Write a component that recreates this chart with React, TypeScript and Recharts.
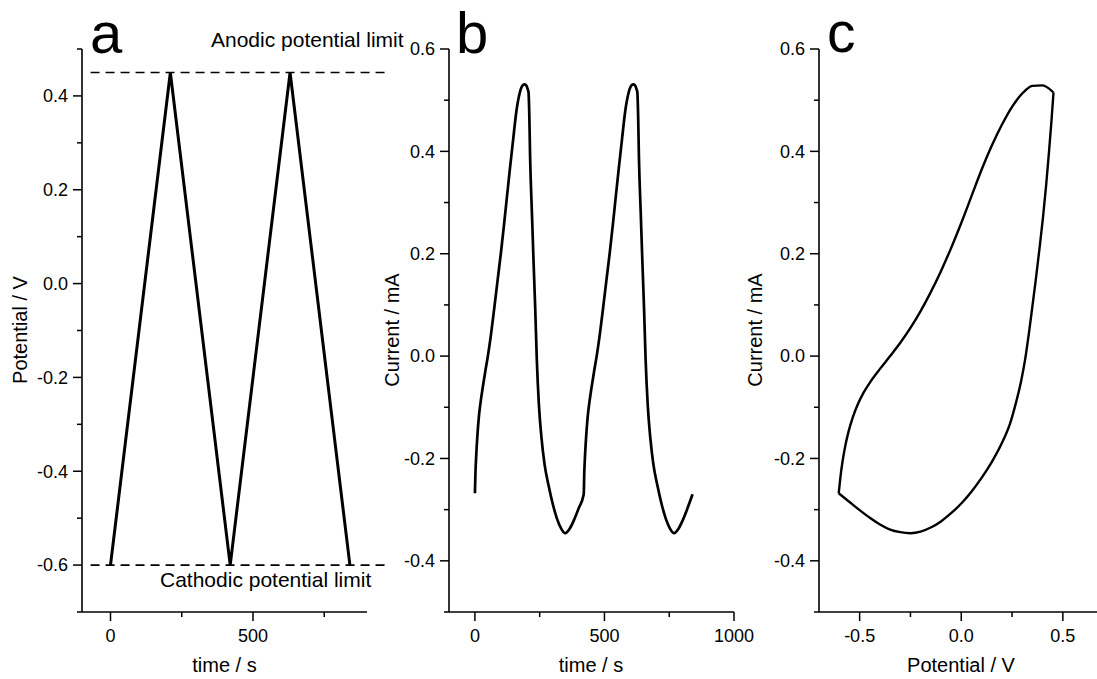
import { LineChart, Line, XAxis, YAxis, ReferenceLine } from "recharts"

// panel a: applied potential sweep
const sweepTime = [0, 210, 420, 630, 840]
const sweepPotential = [-0.6, 0.45, -0.6, 0.45, -0.6]
const anodicLimit = 0.45
const cathodicLimit = -0.6

// panel b: current response vs time (two cycles)
const cvTime = [
  0, 2, 5, 9, 15, 22, 30, 40, 50, 62, 75, 88, 100, 112, 124, 136, 148, 160, 172, 183, 191, 198, 204, 207, 210,
  213, 220, 226, 233, 239, 247, 257, 269, 284, 300, 317, 333, 349, 365, 381, 400, 420,
  422, 425, 429, 435, 442, 450, 460, 470, 482, 495, 508, 520, 532, 544, 556, 568, 580, 592, 603, 611, 618, 624,
  627, 630, 633, 640, 646, 653, 659, 667, 677, 689, 704, 720, 737, 753, 769, 785, 801, 820, 840,
]
const cvCurrent = [
  -0.268, -0.23, -0.195, -0.16, -0.12, -0.09, -0.062, -0.03, 0.0, 0.042, 0.095, 0.15, 0.2, 0.255, 0.313, 0.37,
  0.425, 0.478, 0.512, 0.528, 0.531, 0.529, 0.521, 0.515, 0.47, 0.39, 0.28, 0.19, 0.09, -0.008, -0.095, -0.16,
  -0.212, -0.252, -0.288, -0.318, -0.337, -0.346, -0.338, -0.322, -0.298, -0.27,
  -0.23, -0.195, -0.16, -0.12, -0.09, -0.062, -0.03, 0.0, 0.042, 0.095, 0.15, 0.2, 0.255, 0.313, 0.37, 0.425,
  0.478, 0.512, 0.528, 0.531, 0.529, 0.521, 0.515, 0.47, 0.39, 0.28, 0.19, 0.09, -0.008, -0.095, -0.16, -0.212,
  -0.252, -0.288, -0.318, -0.337, -0.346, -0.338, -0.322, -0.298, -0.27,
]

// panel c: voltammogram, anodic (forward) and cathodic (reverse) branches
const fwdPotential = [
  -0.603, -0.595, -0.585, -0.572, -0.555, -0.535, -0.51, -0.48, -0.445, -0.4, -0.35, -0.3, -0.25, -0.2, -0.15,
  -0.1, -0.05, 0.0, 0.05, 0.1, 0.15, 0.2, 0.25, 0.3, 0.35, 0.4, 0.454,
]
const fwdCurrent = [
  -0.268, -0.238, -0.208, -0.178, -0.148, -0.121, -0.095, -0.071, -0.049, -0.025, 0.0, 0.026, 0.055, 0.088,
  0.125, 0.166, 0.211, 0.26, 0.312, 0.364, 0.411, 0.452, 0.487, 0.513, 0.528, 0.529, 0.515,
]
const revPotential = [
  -0.603, -0.55, -0.5, -0.45, -0.4, -0.35, -0.3, -0.25, -0.2, -0.15, -0.1, -0.05, 0.0, 0.05, 0.1, 0.15, 0.2,
  0.24, 0.27, 0.295, 0.315, 0.333, 0.35, 0.367, 0.385, 0.402, 0.418, 0.432, 0.444, 0.454,
]
const revCurrent = [
  -0.268, -0.285, -0.301, -0.316, -0.329, -0.339, -0.344, -0.346, -0.343, -0.335, -0.323, -0.307, -0.288,
  -0.265, -0.238, -0.207, -0.17, -0.132, -0.09, -0.048, -0.005, 0.045, 0.097, 0.15, 0.21, 0.27, 0.335, 0.4,
  0.46, 0.515,
]

// ticks
const potentialTicksA = [-0.7, -0.6, -0.5, -0.4, -0.3, -0.2, -0.1, 0, 0.1, 0.2, 0.3, 0.4, 0.5]
const potentialMajorA = [-0.6, -0.4, -0.2, 0, 0.2, 0.4]
const timeTicksA = [0, 250, 500, 750]
const timeTicksB = [0, 250, 500, 750, 1000]
const timeMajor = [0, 500, 1000]
const currentTicks = [-0.5, -0.4, -0.3, -0.2, -0.1, 0, 0.1, 0.2, 0.3, 0.4, 0.5, 0.6]
const currentMajor = [-0.4, -0.2, 0, 0.2, 0.4, 0.6]
const potentialTicksC = [-0.5, -0.25, 0, 0.25, 0.5]
const potentialMajorC = [-0.5, 0, 0.5]

const sweepData = sweepTime.map((t, i) => ({ t, E: sweepPotential[i] }))
const cvData = cvTime.map((t, i) => ({ t, I: cvCurrent[i] }))
const fwdData = fwdPotential.map((E, i) => ({ E, I: fwdCurrent[i] }))
const revData = revPotential.map((E, i) => ({ E, I: revCurrent[i] }))

const FONT = '"Liberation Sans", Arial, Helvetica, sans-serif'
const MAJOR_LEN = 9
const MINOR_LEN = 5
const Y_GAP = 5
const X_GAP = 8
const axisLine = { stroke: "#000", strokeWidth: 1.6 }

const fixed1 = (v: number) => v.toFixed(1)
const plain = (v: number) => String(v)

function YTick(props: any) {
  const { x, y, payload, majors, fmt } = props
  const v = payload.value
  const major = majors.includes(v)
  const ax = x + Y_GAP + MAJOR_LEN
  return (
    <g>
      <line x1={ax - (major ? MAJOR_LEN : MINOR_LEN)} x2={ax} y1={y} y2={y} stroke="#000" strokeWidth={1.5} />
      {major && (
        <text x={x} y={y} dy="0.355em" textAnchor="end" fontSize={18} fontFamily={FONT} fill="#000">
          {fmt(v)}
        </text>
      )}
    </g>
  )
}

function XTick(props: any) {
  const { x, y, payload, majors, fmt } = props
  const v = payload.value
  const major = majors.includes(v)
  const ay = y - X_GAP - MAJOR_LEN
  return (
    <g>
      <line x1={x} x2={x} y1={ay} y2={ay + (major ? MAJOR_LEN : MINOR_LEN)} stroke="#000" strokeWidth={1.5} />
      {major && (
        <text x={x} y={y} dy="0.71em" textAnchor="middle" fontSize={18} fontFamily={FONT} fill="#000">
          {fmt(v)}
        </text>
      )}
    </g>
  )
}

const box = (left: number): React.CSSProperties => ({ position: "absolute", left, top: 0 })

export default function App() {
  return (
    <div
      style={{
        position: "absolute",
        left: 0,
        top: 0,
        width: 1097,
        height: 679,
        background: "#fff",
        fontFamily: FONT,
        overflow: "hidden",
      }}
    >
      <div style={box(0)}>
        <LineChart width={400} height={679} data={sweepData} margin={{ top: 49, right: 33, bottom: 7, left: 22 }}>
          <XAxis
            dataKey="t"
            type="number"
            domain={[-100, 900]}
            ticks={timeTicksA}
            interval={0}
            height={60}
            tickSize={MAJOR_LEN}
            tickMargin={X_GAP}
            tickLine={false}
            axisLine={axisLine}
            tick={(p: any) => <XTick {...p} majors={timeMajor} fmt={plain} />}
          />
          <YAxis
            type="number"
            domain={[-0.7, 0.5]}
            ticks={potentialTicksA}
            interval={0}
            width={60}
            tickSize={MAJOR_LEN}
            tickMargin={Y_GAP}
            tickLine={false}
            axisLine={axisLine}
            tick={(p: any) => <YTick {...p} majors={potentialMajorA} fmt={fixed1} />}
          />
          <ReferenceLine
            segment={[
              { x: -70, y: anodicLimit },
              { x: 970, y: anodicLimit },
            ]}
            ifOverflow="visible"
            stroke="#000"
            strokeWidth={1.6}
            strokeDasharray="9 6"
          />
          <ReferenceLine
            segment={[
              { x: -70, y: cathodicLimit },
              { x: 970, y: cathodicLimit },
            ]}
            ifOverflow="visible"
            stroke="#000"
            strokeWidth={1.6}
            strokeDasharray="9 6"
          />
          <Line
            dataKey="E"
            type="linear"
            stroke="#000"
            strokeWidth={3}
            dot={false}
            activeDot={false}
            isAnimationActive={false}
          />
        </LineChart>
      </div>

      <div style={box(380)}>
        <LineChart width={380} height={679} data={cvData} margin={{ top: 49, right: 26, bottom: 7, left: 9 }}>
          <XAxis
            dataKey="t"
            type="number"
            domain={[-100, 1000]}
            ticks={timeTicksB}
            interval={0}
            height={60}
            tickSize={MAJOR_LEN}
            tickMargin={X_GAP}
            tickLine={false}
            axisLine={axisLine}
            tick={(p: any) => <XTick {...p} majors={timeMajor} fmt={plain} />}
          />
          <YAxis
            type="number"
            domain={[-0.5, 0.6]}
            ticks={currentTicks}
            interval={0}
            width={60}
            tickSize={MAJOR_LEN}
            tickMargin={Y_GAP}
            tickLine={false}
            axisLine={axisLine}
            tick={(p: any) => <YTick {...p} majors={currentMajor} fmt={fixed1} />}
          />
          <Line
            dataKey="I"
            type="monotone"
            stroke="#000"
            strokeWidth={2.7}
            dot={false}
            activeDot={false}
            isAnimationActive={false}
          />
        </LineChart>
      </div>

      <div style={box(750)}>
        <LineChart width={347} height={679} margin={{ top: 49, right: 0, bottom: 7, left: 9 }}>
          <XAxis
            dataKey="E"
            type="number"
            domain={[-0.7, 0.668]}
            ticks={potentialTicksC}
            interval={0}
            height={60}
            tickSize={MAJOR_LEN}
            tickMargin={X_GAP}
            tickLine={false}
            axisLine={axisLine}
            allowDataOverflow
            tick={(p: any) => <XTick {...p} majors={potentialMajorC} fmt={fixed1} />}
          />
          <YAxis
            type="number"
            domain={[-0.5, 0.6]}
            ticks={currentTicks}
            interval={0}
            width={60}
            tickSize={MAJOR_LEN}
            tickMargin={Y_GAP}
            tickLine={false}
            axisLine={axisLine}
            tick={(p: any) => <YTick {...p} majors={currentMajor} fmt={fixed1} />}
          />
          <Line
            data={fwdData}
            dataKey="I"
            type="monotone"
            stroke="#000"
            strokeWidth={2.4}
            dot={false}
            activeDot={false}
            isAnimationActive={false}
          />
          <Line
            data={revData}
            dataKey="I"
            type="monotone"
            stroke="#000"
            strokeWidth={2.4}
            dot={false}
            activeDot={false}
            isAnimationActive={false}
          />
        </LineChart>
      </div>

      {/* panel letters, annotations and axis titles */}
      <svg
        width={1097}
        height={679}
        style={{ position: "absolute", left: 0, top: 0, pointerEvents: "none" }}
        fontFamily={FONT}
        fill="#000"
      >
        <text x={90} y={53} fontSize={58}>a</text>
        <text x={456} y={53} fontSize={58}>b</text>
        <text x={827} y={52} fontSize={57}>c</text>

        <text x={211} y={46.5} fontSize={21}>Anodic potential limit</text>
        <text x={160} y={587} fontSize={21}>Cathodic potential limit</text>

        <text x={224.5} y={672} fontSize={20} textAnchor="middle">time / s</text>
        <text x={591} y={672} fontSize={20} textAnchor="middle">time / s</text>
        <text x={961} y={672} fontSize={20} textAnchor="middle">Potential / V</text>

        <text transform="translate(26.5,330) rotate(-90)" fontSize={20} textAnchor="middle">Potential / V</text>
        <text transform="translate(399,330) rotate(-90)" fontSize={20} textAnchor="middle">Current / mA</text>
        <text transform="translate(762,330) rotate(-90)" fontSize={20} textAnchor="middle">Current / mA</text>
      </svg>
    </div>
  )
}
